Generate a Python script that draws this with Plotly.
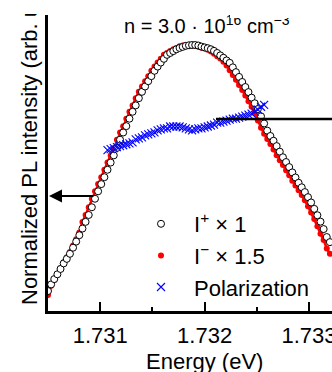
import plotly.graph_objects as go

# ---------------- data ----------------
energy = [1.73050, 1.73053, 1.73056, 1.73059, 1.73062, 1.73065, 1.73068, 1.73071, 1.73074, 1.73077,
          1.73080, 1.73083, 1.73086, 1.73089, 1.73092, 1.73095, 1.73098, 1.73101, 1.73104, 1.73107,
          1.73110, 1.73113, 1.73116, 1.73119, 1.73122, 1.73125, 1.73128, 1.73131, 1.73134, 1.73137,
          1.73140, 1.73143, 1.73146, 1.73149, 1.73152, 1.73155, 1.73158, 1.73161, 1.73164, 1.73167,
          1.73170, 1.73173, 1.73176, 1.73179, 1.73182, 1.73185, 1.73188, 1.73191, 1.73194, 1.73197,
          1.73200, 1.73203, 1.73206, 1.73209, 1.73212, 1.73215, 1.73218, 1.73221, 1.73224, 1.73227,
          1.73230, 1.73233, 1.73236, 1.73239, 1.73242, 1.73245, 1.73248, 1.73251, 1.73254, 1.73257,
          1.73260, 1.73263, 1.73266, 1.73269, 1.73272, 1.73275, 1.73278, 1.73281, 1.73284, 1.73287,
          1.73290, 1.73293, 1.73296, 1.73299, 1.73302, 1.73305, 1.73308, 1.73311, 1.73314, 1.73317,
          1.73320]

i_plus = [0.075, 0.100, 0.120, 0.138, 0.158, 0.179, 0.196, 0.215, 0.238, 0.261,
          0.285, 0.310, 0.335, 0.361, 0.390, 0.422, 0.450, 0.477, 0.503, 0.531,
          0.558, 0.585, 0.613, 0.644, 0.671, 0.695, 0.723, 0.749, 0.773, 0.800,
          0.824, 0.844, 0.864, 0.883, 0.903, 0.919, 0.934, 0.948, 0.963, 0.970,
          0.977, 0.984, 0.989, 0.993, 0.997, 0.999, 1.000, 1.000, 0.998, 0.994,
          0.991, 0.988, 0.984, 0.978, 0.970, 0.961, 0.952, 0.942, 0.933, 0.916,
          0.898, 0.880, 0.861, 0.842, 0.823, 0.802, 0.781, 0.759, 0.732, 0.705,
          0.678, 0.658, 0.640, 0.620, 0.599, 0.578, 0.560, 0.541, 0.521, 0.502,
          0.482, 0.465, 0.447, 0.428, 0.408, 0.384, 0.360, 0.336, 0.308, 0.278,
          0.259]

i_minus_x15 = [0.060, 0.095, 0.117, 0.139, 0.161, 0.183, 0.202, 0.222, 0.246, 0.270,
               0.295, 0.335, 0.361, 0.390, 0.422, 0.450, 0.477, 0.503, 0.531, 0.558,
               0.585, 0.613, 0.644, 0.671, 0.695, 0.723, 0.749, 0.773, 0.800, 0.824,
               0.844, 0.864, 0.883, 0.903, 0.919, 0.934, 0.948, 0.963, 0.970, 0.977,
               0.984, 0.989, 0.995, 0.998, 1.000, 1.000, 0.998, 0.997, 0.993, 0.990,
               0.987, 0.982, 0.976, 0.967, 0.958, 0.949, 0.937, 0.923, 0.905, 0.887,
               0.869, 0.850, 0.831, 0.810, 0.789, 0.768, 0.743, 0.716, 0.689, 0.666,
               0.647, 0.628, 0.607, 0.586, 0.567, 0.549, 0.529, 0.510, 0.490, 0.472,
               0.454, 0.436, 0.416, 0.394, 0.370, 0.346, 0.319, 0.290, 0.267, 0.235,
               0.215]

pol_energy = [1.73107, 1.73110, 1.73113, 1.73116, 1.73119, 1.73122, 1.73125, 1.73128, 1.73131, 1.73134,
              1.73137, 1.73140, 1.73143, 1.73146, 1.73149, 1.73152, 1.73155, 1.73158, 1.73161, 1.73164,
              1.73167, 1.73170, 1.73173, 1.73176, 1.73179, 1.73182, 1.73185, 1.73188, 1.73191, 1.73194,
              1.73197, 1.73200, 1.73203, 1.73206, 1.73209, 1.73212, 1.73215, 1.73218, 1.73221, 1.73224,
              1.73227, 1.73230, 1.73233, 1.73236, 1.73239, 1.73242, 1.73245, 1.73248, 1.73251, 1.73254,
              1.73257]

polarization = [0.163, 0.164, 0.165, 0.166, 0.167, 0.168, 0.169, 0.170, 0.171, 0.174,
                0.175, 0.176, 0.178, 0.179, 0.180, 0.181, 0.183, 0.184, 0.185, 0.185,
                0.187, 0.187, 0.187, 0.187, 0.186, 0.185, 0.184, 0.183, 0.184, 0.185,
                0.185, 0.186, 0.187, 0.188, 0.189, 0.191, 0.191, 0.192, 0.193, 0.194,
                0.195, 0.195, 0.196, 0.197, 0.198, 0.199, 0.200, 0.202, 0.204, 0.207,
                0.209]

x_tickvals = [1.731, 1.732, 1.733]
x_ticktext = ["1.731", "1.732", "1.733"]
x_minor = [1.7315, 1.7325]

# ---------------- layout helpers (pixel -> paper) ----------------
W, H = 332, 372
ML, MR, MT, MB = 48, 0, 15, 61
PW, PH = W - ML - MR, H - MT - MB


def px(x):
    return (x - ML) / PW


def py(y):
    return (H - MB - y) / PH


FONT = "Liberation Sans, Arial, sans-serif"

fig = go.Figure()

# I- x 1.5 : continuous red band (no legend entry) + red dots (legend entry)
fig.add_trace(go.Scatter(
    x=energy, y=i_minus_x15, mode="lines", showlegend=False, hoverinfo="skip",
    line=dict(color="#ff0000", width=2.5)))
fig.add_trace(go.Scatter(
    x=energy, y=i_minus_x15, mode="markers", name="I<sup>\u2212</sup> \u00d7 1.5",
    marker=dict(symbol="circle", size=6, color="#ff0000"),
    legendrank=2))

fig.add_trace(go.Scatter(
    x=energy, y=i_plus, mode="markers", name="I<sup>+</sup> \u00d7 1",
    marker=dict(symbol="circle", size=7, color="white", line=dict(color="black", width=1)),
    legendrank=1))

fig.add_trace(go.Scatter(
    x=pol_energy, y=polarization, mode="markers", name="Polarization", yaxis="y2",
    marker=dict(symbol="x-thin", size=8, color="#0000ff", line=dict(color="#0000ff", width=1.1)),
    legendrank=3))

fig.update_layout(
    width=W, height=H,
    margin=dict(l=ML, r=MR, t=MT, b=MB, pad=0),
    paper_bgcolor="white", plot_bgcolor="white",
    font=dict(family=FONT, color="black", size=22),
    showlegend=True,
    legend=dict(x=px(128), y=py(203), xanchor="left", yanchor="top",
                bgcolor="rgba(0,0,0,0)", borderwidth=0, itemwidth=56,
                font=dict(size=22, family=FONT, color="black")),
    xaxis=dict(range=[1.7305, 1.73322], tickvals=x_tickvals, ticktext=x_ticktext,
               ticks="inside", ticklen=9, tickwidth=2, tickcolor="black",
               minor=dict(tickvals=x_minor, ticks="inside", ticklen=4, tickwidth=2, tickcolor="black"),
               showline=True, linewidth=2.5, linecolor="black", mirror=False,
               showgrid=False, zeroline=False, automargin=False,
               tickfont=dict(size=22, family=FONT, color="black"),
               ticklabeloverflow="allow", ticklabelstandoff=3),
    yaxis=dict(range=[0, 1.1128], showline=True, linewidth=2.5, linecolor="black",
               ticks="", showticklabels=False, showgrid=False, zeroline=False, automargin=False),
    yaxis2=dict(range=[0, 0.3], overlaying="y", side="right", visible=False),
    shapes=[
        # line of the arrow pointing to the (cropped) right axis
        dict(type="line", xref="paper", yref="paper", x0=px(216), x1=px(345),
             y0=py(119), y1=py(119), line=dict(color="black", width=2.5), layer="above"),
    ],
)


def white_box(x_left, x_right, bottom):
    """White band that crops the top of the original (larger) figure."""
    return dict(text=" ", xref="paper", yref="paper", x=px(x_left), y=py(0),
                xanchor="left", yanchor="top", width=x_right - x_left, height=bottom,
                bgcolor="white", borderpad=0, borderwidth=0, showarrow=False)


annotations = [
    # x-axis title
    dict(text="Energy (eV)", xref="paper", yref="paper", x=px(204), y=py(361),
         xanchor="center", yanchor="middle", showarrow=False,
         font=dict(size=22, family=FONT, color="black")),
    # y-axis title (rotated)
    dict(text="Normalized PL intensity (arb. units)", xref="paper", yref="paper",
         x=px(29), y=py(307), xanchor="center", yanchor="bottom", textangle=-90,
         showarrow=False, font=dict(size=22, family=FONT, color="black")),
    # sample label
    dict(text="n = 3.0 \u00b7 10<sup>16</sup> cm<sup>\u22123</sup>", xref="paper", yref="paper",
         x=px(207), y=py(39), xanchor="center", yanchor="bottom", showarrow=False,
         font=dict(size=20, family=FONT, color="black")),
    # arrow to left axis
    dict(text="", xref="paper", yref="paper", x=px(49), y=py(196), ax=46, ay=0,
         axref="pixel", ayref="pixel", showarrow=True, arrowhead=2, arrowsize=1.3,
         arrowwidth=2, arrowcolor="black"),
    # crop bands
    white_box(-10, 345, 14),
    white_box(230, 247, 18),
    white_box(277, 296, 18),
]
fig.update_layout(annotations=annotations)

fig.write_html(
    "out.html",
    config={"displayModeBar": False},
    post_script="document.body.style.margin='0';document.body.style.padding='0';"
                "document.body.style.overflow='hidden';",
)
